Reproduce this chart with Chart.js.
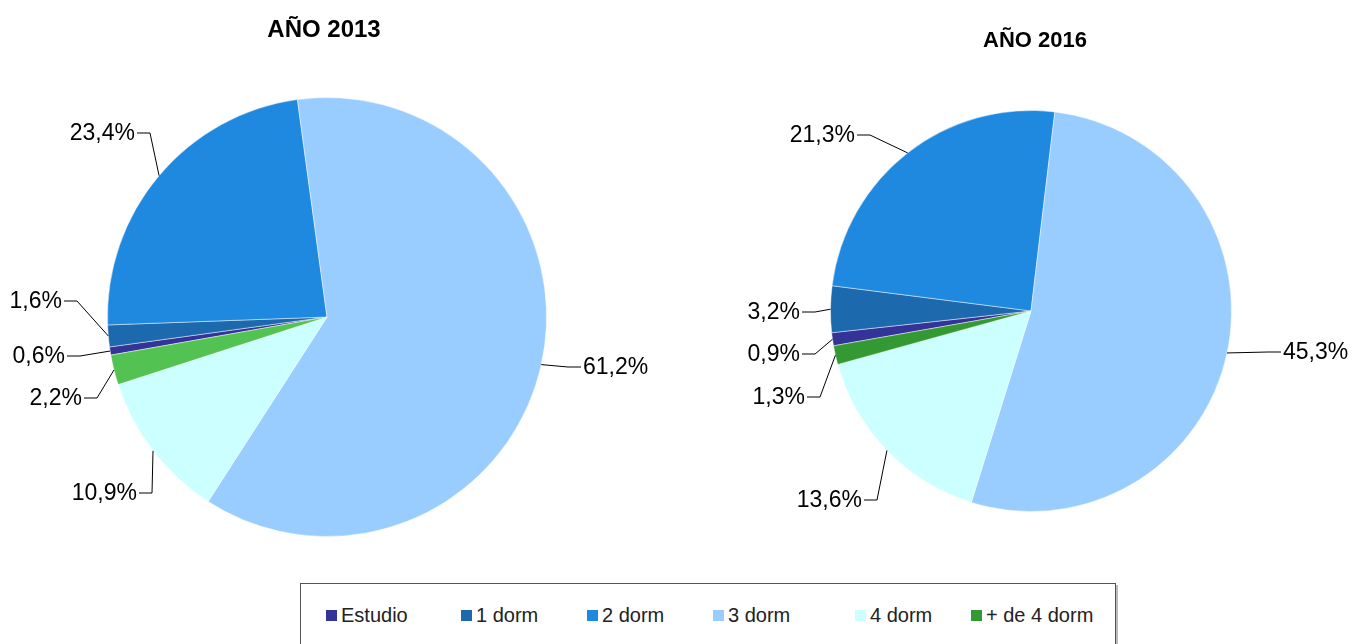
<!DOCTYPE html>
<html>
<head>
<meta charset="utf-8">
<script src="https://cdn.jsdelivr.net/npm/chart.js@4"></script>
<style>
  body { margin: 0; background: #fff; width: 1365px; height: 644px; overflow: hidden; position: relative; font-family: "Liberation Sans", Arial, sans-serif; }
  #c2013 { position: absolute; left: 0; top: 0; }
  #c2016 { position: absolute; left: 680px; top: 0; }
  #leyenda {
    position: absolute; left: 300px; top: 583px; width: 814px; height: 80px;
    border: 1px solid #555; box-shadow: 2px 2px 0 #bbb; background: #fff;
  }
  #leyenda .item { position: absolute; top: 21px; font-size: 20px; color: #222; white-space: nowrap; line-height: 20px; }
  #leyenda .sq { display: inline-block; width: 11px; height: 11px; margin-right: 4px; vertical-align: 1px; }
</style>
</head>
<body>
<canvas id="c2013" width="680" height="580"></canvas>
<canvas id="c2016" width="685" height="580"></canvas>
<div id="leyenda"></div>

<script>
const categorias = ['Estudio', '1 dorm', '2 dorm', '3 dorm', '4 dorm', '+ de 4 dorm'];
const valores2013 = [0.6, 1.6, 23.4, 61.2, 10.9, 2.2];
const valores2016 = [0.9, 3.2, 21.3, 45.3, 13.6, 1.3];

const colores2013 = ['#333399', '#1C69AE', '#1F89E0', '#99CCFF', '#CCFFFF', '#52C352'];
const colores2016 = ['#333399', '#1C69AE', '#1F89E0', '#99CCFF', '#CCFFFF', '#339933'];

// posicion del texto de cada etiqueta respecto al centro de la tarta
const etiq2013 = [
  { dx: -262, dy: 39, lado: 'izq' },
  { dx: -265, dy: -16, lado: 'izq' },
  { dx: -192, dy: -184, lado: 'izq' },
  { dx: 256, dy: 50, lado: 'der' },
  { dx: -190, dy: 176, lado: 'izq' },
  { dx: -245, dy: 81, lado: 'izq' }
];
const etiq2016 = [
  { dx: -231, dy: 43, lado: 'izq' },
  { dx: -231, dy: 1, lado: 'izq' },
  { dx: -176, dy: -176, lado: 'izq' },
  { dx: 252, dy: 41, lado: 'der' },
  { dx: -169, dy: 189, lado: 'izq' },
  { dx: -226, dy: 86, lado: 'izq' }
];

function fmt(v) {
  return v.toFixed(1).replace('.', ',') + '%';
}

// titulo y etiquetas con linea guia
const etiquetasPlugin = {
  id: 'etiquetas',
  afterDatasetsDraw(chart, args, opts) {
    const ctx = chart.ctx;
    const meta = chart.getDatasetMeta(0);
    const datos = chart.data.datasets[0].data;
    ctx.save();
    meta.data.forEach((arc, i) => {
      const p = arc.getProps(['x', 'y', 'startAngle', 'endAngle', 'outerRadius'], true);
      const mid = (p.startAngle + p.endAngle) / 2;
      const ax = p.x + Math.cos(mid) * p.outerRadius;
      const ay = p.y + Math.sin(mid) * p.outerRadius;
      const e = opts.pos[i];
      const tx = p.x + e.dx;
      const ty = p.y + e.dy;
      const sgn = e.lado === 'izq' ? 1 : -1;
      ctx.beginPath();
      ctx.strokeStyle = '#000';
      ctx.lineWidth = 1;
      ctx.moveTo(ax, ay);
      ctx.lineTo(tx + sgn * 15, ty);
      ctx.lineTo(tx + sgn * 2, ty);
      ctx.stroke();
      ctx.fillStyle = '#000';
      ctx.font = '23px "Liberation Sans", Arial, sans-serif';
      ctx.textBaseline = 'middle';
      ctx.textAlign = e.lado === 'izq' ? 'right' : 'left';
      ctx.fillText(fmt(datos[i]), tx, ty + 1);
    });
    ctx.font = 'bold ' + opts.tamTitulo + 'px "Liberation Sans", Arial, sans-serif';
    ctx.textAlign = 'center';
    ctx.textBaseline = 'alphabetic';
    ctx.fillText(opts.titulo, opts.tituloX, opts.tituloY);
    ctx.restore();
  }
};

function tarta(id, valores, colores, padding, opts) {
  return new Chart(document.getElementById(id), {
    type: 'pie',
    data: {
      labels: categorias,
      datasets: [{
        data: valores,
        backgroundColor: colores,
        borderColor: 'rgba(255,255,255,0.45)',
        borderWidth: 1
      }]
    },
    options: {
      responsive: false,
      animation: false,
      rotation: -100,
      layout: { padding: padding },
      plugins: {
        legend: { display: false },
        tooltip: { enabled: false },
        etiquetas: opts
      }
    },
    plugins: [etiquetasPlugin]
  });
}

tarta('c2013', valores2013, colores2013,
  { left: 107, top: 97, right: 133, bottom: 43 },
  { pos: etiq2013, titulo: 'AÑO 2013', tamTitulo: 24, tituloX: 324, tituloY: 37 });

tarta('c2016', valores2016, colores2016,
  { left: 150, top: 110, right: 133, bottom: 68 },
  { pos: etiq2016, titulo: 'AÑO 2016', tamTitulo: 22, tituloX: 355, tituloY: 47 });

// leyenda comun
const leyendaX = [25, 160, 286, 412, 554, 670];
const leyenda = document.getElementById('leyenda');
categorias.forEach((c, i) => {
  const d = document.createElement('div');
  d.className = 'item';
  d.style.left = leyendaX[i] + 'px';
  d.innerHTML = '<span class="sq" style="background:' + colores2016[i] + '"></span>' + c;
  leyenda.appendChild(d);
});
</script>
</body>
</html>
